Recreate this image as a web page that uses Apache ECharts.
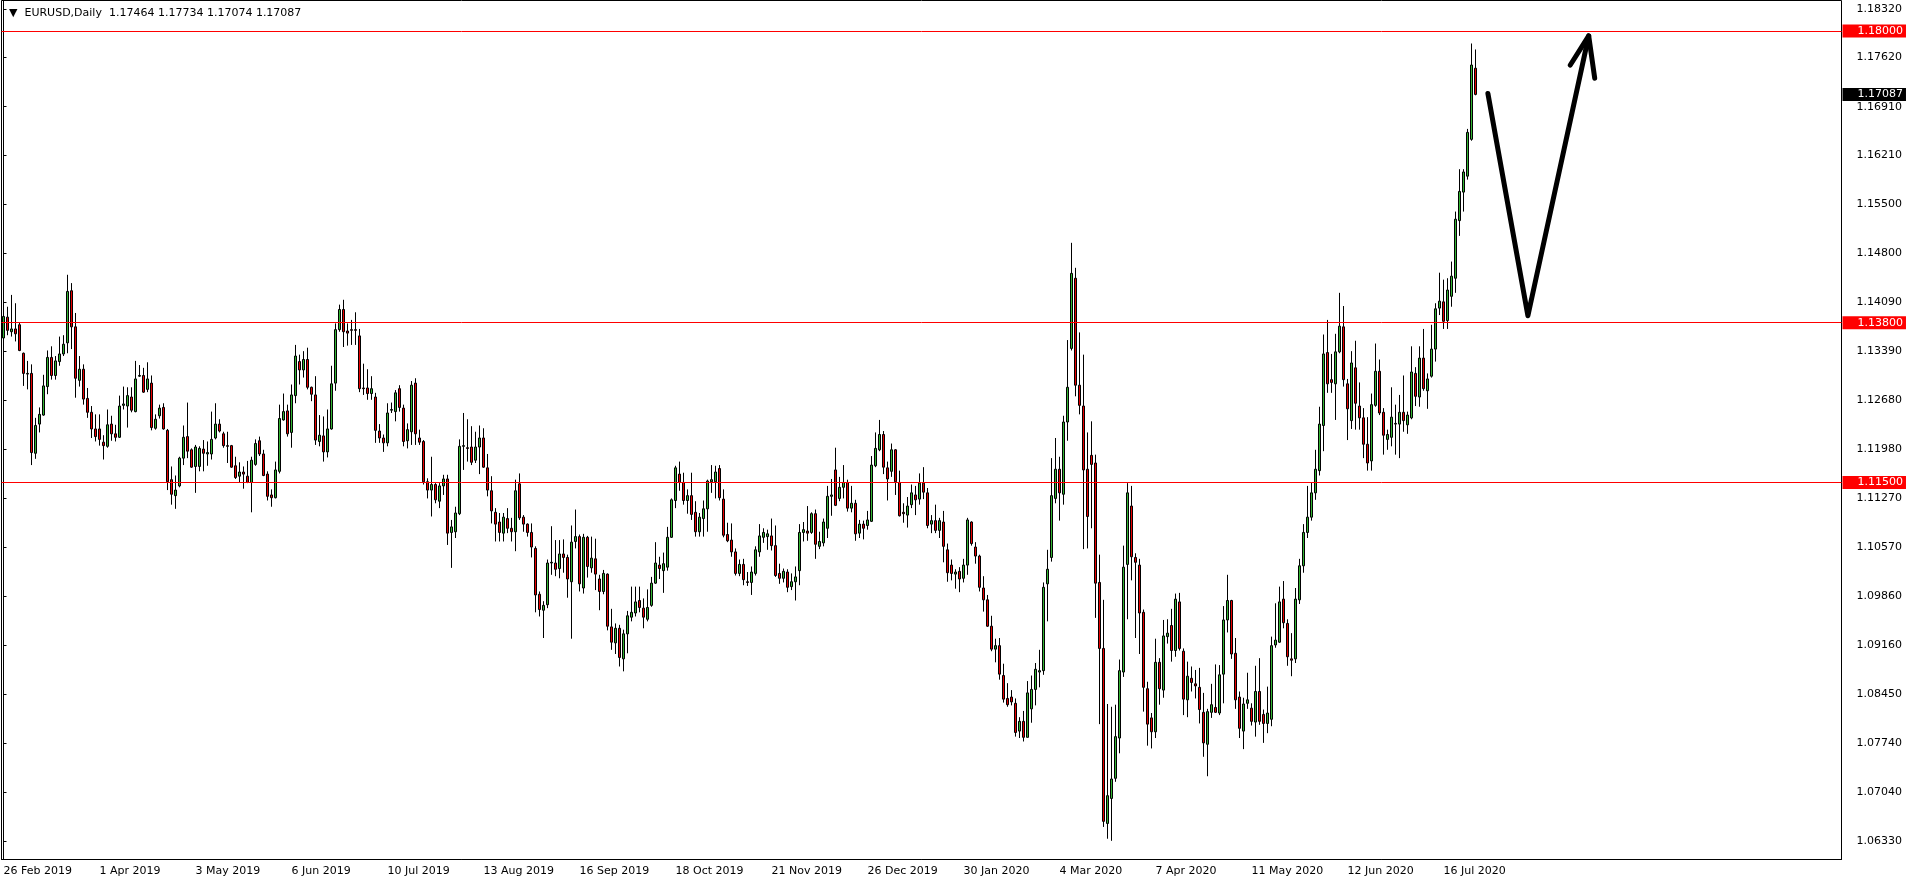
<!DOCTYPE html>
<html><head><meta charset="utf-8">
<script src="https://cdn.jsdelivr.net/npm/echarts@6/dist/echarts.min.js"></script>
<style>html,body{margin:0;padding:0;background:#fff}#c{width:1916px;height:884px}</style>
</head><body><div id="c"></div>
<script>
const headerText = 'EURUSD,Daily  1.17464 1.17734 1.17074 1.17087';
const startDate = '2019-02-26';
const closedDays = ['2019-12-25', '2020-01-01'];
const totalSlots = 460;
const labelEvery = 24;
const yTicks = [1.0633, 1.0704, 1.0774, 1.0845, 1.0916, 1.0986, 1.1057, 1.1127, 1.1198, 1.1268, 1.1339, 1.1409, 1.1480, 1.1550, 1.1621, 1.1691, 1.1762, 1.1832];
const levels = [1.18, 1.138, 1.115];
const lastPrice = 1.17087;
// [open, close, low, high]
const candles = [
[1.1358,1.1389,1.1343,1.1403],[1.1388,1.1369,1.1362,1.1403],[1.1367,1.1371,1.1360,1.1420],[1.1371,1.1364,1.1353,1.1408],
[1.1377,1.1340,1.1339,1.1380],[1.1336,1.1307,1.1289,1.1337],[1.1306,1.1307,1.1284,1.1325],[1.1307,1.1193,1.1175,1.1320],
[1.1192,1.1232,1.1184,1.1243],[1.1234,1.1248,1.1222,1.1258],[1.1247,1.1289,1.1246,1.1305],[1.1288,1.1330,1.1277,1.1340],
[1.1330,1.1304,1.1298,1.1346],[1.1304,1.1325,1.1298,1.1332],[1.1324,1.1335,1.1318,1.1360],[1.1335,1.1349,1.1332,1.1362],
[1.1351,1.1425,1.1336,1.1449],[1.1426,1.1374,1.1342,1.1437],[1.1374,1.1300,1.1272,1.1394],[1.1297,1.1313,1.1288,1.1332],
[1.1313,1.1270,1.1262,1.1320],[1.1271,1.1251,1.1243,1.1286],[1.1251,1.1227,1.1214,1.1260],[1.1227,1.1216,1.1209,1.1248],
[1.1227,1.1212,1.1203,1.1248],[1.1208,1.1203,1.1183,1.1218],[1.1202,1.1233,1.1200,1.1255],[1.1234,1.1220,1.1210,1.1246],
[1.1220,1.1215,1.1209,1.1233],[1.1215,1.1260,1.1214,1.1275],[1.1261,1.1263,1.1255,1.1288],[1.1260,1.1275,1.1229,1.1287],
[1.1273,1.1254,1.1251,1.1287],[1.1252,1.1299,1.1251,1.1325],[1.1303,1.1304,1.1302,1.1319],[1.1304,1.1280,1.1279,1.1315],
[1.1284,1.1299,1.1280,1.1323],[1.1293,1.1229,1.1225,1.1304],[1.1228,1.1241,1.1226,1.1248],[1.1246,1.1257,1.1242,1.1262],
[1.1258,1.1227,1.1226,1.1264],[1.1225,1.1151,1.1139,1.1227],[1.1154,1.1133,1.1118,1.1173],[1.1131,1.1139,1.1112,1.1160],
[1.1145,1.1185,1.1143,1.1187],[1.1185,1.1215,1.1175,1.1232],[1.1216,1.1195,1.1185,1.1265],[1.1197,1.1172,1.1171,1.1199],
[1.1173,1.1201,1.1135,1.1204],[1.1173,1.1199,1.1166,1.1202],[1.1198,1.1192,1.1166,1.1211],[1.1191,1.1193,1.1174,1.1209],
[1.1191,1.1212,1.1183,1.1252],[1.1214,1.1234,1.1212,1.1264],[1.1234,1.1224,1.1222,1.1241],[1.1220,1.1203,1.1200,1.1223],
[1.1203,1.1202,1.1178,1.1223],[1.1203,1.1172,1.1171,1.1204],[1.1174,1.1157,1.1155,1.1187],[1.1159,1.1165,1.1150,1.1179],
[1.1165,1.1162,1.1141,1.1173],[1.1159,1.1150,1.1149,1.1181],[1.1150,1.1182,1.1107,1.1187],[1.1176,1.1206,1.1174,1.1212],
[1.1210,1.1191,1.1188,1.1216],[1.1191,1.1160,1.1159,1.1197],[1.1162,1.1130,1.1124,1.1166],[1.1132,1.1128,1.1115,1.1140],
[1.1128,1.1168,1.1127,1.1180],[1.1166,1.1242,1.1163,1.1262],[1.1240,1.1252,1.1239,1.1278],[1.1253,1.1220,1.1216,1.1262],
[1.1222,1.1276,1.1200,1.1291],[1.1275,1.1332,1.1264,1.1348],[1.1324,1.1312,1.1291,1.1334],[1.1312,1.1327,1.1301,1.1339],
[1.1327,1.1287,1.1284,1.1344],[1.1287,1.1277,1.1267,1.1288],[1.1276,1.1211,1.1204,1.1303],[1.1209,1.1218,1.1202,1.1247],
[1.1217,1.1194,1.1180,1.1245],[1.1194,1.1227,1.1186,1.1255],[1.1227,1.1292,1.1226,1.1318],[1.1293,1.1370,1.1282,1.1379],
[1.1370,1.1399,1.1367,1.1406],[1.1399,1.1367,1.1345,1.1413],[1.1368,1.1365,1.1347,1.1379],[1.1370,1.1369,1.1348,1.1384],
[1.1370,1.1369,1.1348,1.1395],[1.1361,1.1285,1.1280,1.1371],[1.1286,1.1285,1.1276,1.1321],[1.1286,1.1278,1.1269,1.1313],
[1.1278,1.1285,1.1269,1.1303],[1.1273,1.1225,1.1207,1.1279],[1.1224,1.1214,1.1207,1.1234],[1.1214,1.1207,1.1194,1.1219],
[1.1207,1.1250,1.1202,1.1264],[1.1254,1.1255,1.1250,1.1265],[1.1252,1.1279,1.1238,1.1283],[1.1285,1.1258,1.1252,1.1290],
[1.1257,1.1209,1.1202,1.1262],[1.1210,1.1226,1.1199,1.1235],[1.1223,1.1290,1.1204,1.1296],[1.1293,1.1220,1.1204,1.1300],
[1.1214,1.1208,1.1204,1.1226],[1.1209,1.1151,1.1147,1.1211],[1.1151,1.1139,1.1127,1.1156],[1.1139,1.1147,1.1101,1.1187],
[1.1147,1.1125,1.1120,1.1149],[1.1123,1.1145,1.1113,1.1149],[1.1145,1.1155,1.1132,1.1161],[1.1155,1.1077,1.1060,1.1161],
[1.1078,1.1086,1.1027,1.1096],[1.1079,1.1106,1.1070,1.1115],[1.1105,1.1202,1.1103,1.1212],[1.1202,1.1203,1.1168,1.1250],
[1.1200,1.1199,1.1180,1.1241],[1.1201,1.1179,1.1175,1.1231],[1.1182,1.1201,1.1178,1.1223],[1.1201,1.1214,1.1162,1.1232],
[1.1214,1.1172,1.1171,1.1228],[1.1171,1.1139,1.1130,1.1191],[1.1138,1.1109,1.1091,1.1159],[1.1107,1.1090,1.1065,1.1113],
[1.1093,1.1078,1.1065,1.1106],[1.1077,1.1100,1.1065,1.1106],[1.1098,1.1084,1.1077,1.1113],[1.1084,1.1079,1.1065,1.1099],
[1.1079,1.1138,1.1051,1.1154],[1.1148,1.1099,1.1096,1.1163],[1.1100,1.1090,1.1079,1.1103],[1.1090,1.1078,1.1072,1.1091],
[1.1078,1.1057,1.1042,1.1091],[1.1055,1.0988,1.0963,1.1058],[1.0989,1.0967,1.0957,1.0993],[1.0966,1.0973,1.0926,1.0979],
[1.0974,1.1034,1.0969,1.1039],[1.1034,1.1035,1.1017,1.1087],[1.1034,1.1025,1.1015,1.1067],[1.1026,1.1047,1.1012,1.1067],
[1.1047,1.1042,1.1020,1.1068],[1.1042,1.1011,1.0984,1.1046],[1.1007,1.1064,1.0925,1.1088],[1.1065,1.1072,1.1055,1.1111],
[1.1072,1.1004,1.0993,1.1075],[1.0998,1.1071,1.0990,1.1076],[1.1071,1.1029,1.1013,1.1073],[1.1027,1.1041,1.1020,1.1072],
[1.1040,1.1018,1.0995,1.1069],[1.1011,1.0993,1.0966,1.1017],[1.0993,1.1019,1.0989,1.1024],[1.1018,1.0943,1.0937,1.1019],
[1.0942,1.0920,1.0909,1.0968],[1.0919,1.0940,1.0903,1.0947],[1.0940,1.0898,1.0885,1.0945],[1.0896,1.0932,1.0878,1.0938],
[1.0932,1.0958,1.0904,1.0965],[1.0956,1.0963,1.0950,1.1000],[1.0962,1.0978,1.0957,1.1000],[1.0980,1.0970,1.0963,1.1000],
[1.0969,1.0956,1.0940,1.0983],[1.0953,1.0970,1.0950,1.0996],[1.0973,1.1005,1.0971,1.1014],[1.1005,1.1034,1.1004,1.1064],
[1.1031,1.1026,1.1011,1.1043],[1.1023,1.1033,1.0991,1.1049],[1.1028,1.1071,1.1023,1.1086],[1.1071,1.1125,1.1070,1.1127],
[1.1124,1.1171,1.1113,1.1174],[1.1162,1.1150,1.1138,1.1180],[1.1150,1.1124,1.1118,1.1164],[1.1124,1.1131,1.1105,1.1140],
[1.1131,1.1104,1.1096,1.1164],[1.1107,1.1079,1.1072,1.1123],[1.1079,1.1100,1.1072,1.1106],[1.1098,1.1112,1.1072,1.1124],
[1.1112,1.1152,1.1079,1.1154],[1.1151,1.1154,1.1135,1.1175],[1.1151,1.1165,1.1127,1.1174],[1.1170,1.1128,1.1124,1.1175],
[1.1126,1.1074,1.1071,1.1140],[1.1075,1.1066,1.1064,1.1092],[1.1067,1.1050,1.1043,1.1091],[1.1050,1.1019,1.1016,1.1055],
[1.1019,1.1032,1.1015,1.1039],[1.1032,1.1010,1.1002,1.1040],[1.1007,1.1006,1.1001,1.1021],[1.1006,1.1021,1.0988,1.1029],
[1.1019,1.1053,1.1016,1.1058],[1.1050,1.1073,1.1043,1.1090],[1.1071,1.1078,1.1063,1.1084],[1.1072,1.1076,1.1053,1.1082],
[1.1073,1.1059,1.1052,1.1098],[1.1059,1.1016,1.1014,1.1088],[1.1019,1.1012,1.1004,1.1033],[1.1012,1.1022,1.1006,1.1026],
[1.1021,1.0999,1.0992,1.1025],[1.1000,1.1007,1.0995,1.1019],[1.1007,1.1014,1.0980,1.1029],[1.1023,1.1078,1.1002,1.1090],
[1.1078,1.1082,1.1065,1.1093],[1.1080,1.1077,1.1066,1.1116],[1.1078,1.1105,1.1076,1.1107],[1.1105,1.1061,1.1040,1.1111],
[1.1058,1.1065,1.1054,1.1079],[1.1063,1.1093,1.1058,1.1098],[1.1084,1.1130,1.1070,1.1145],[1.1130,1.1132,1.1102,1.1155],
[1.1168,1.1117,1.1116,1.1200],[1.1127,1.1143,1.1123,1.1158],[1.1143,1.1150,1.1127,1.1175],[1.1150,1.1113,1.1108,1.1154],
[1.1113,1.1120,1.1107,1.1145],[1.1120,1.1076,1.1066,1.1125],[1.1077,1.1090,1.1070,1.1096],[1.1090,1.1084,1.1068,1.1095],
[1.1088,1.1096,1.1082,1.1109],[1.1094,1.1175,1.1093,1.1188],[1.1174,1.1199,1.1172,1.1222],[1.1197,1.1219,1.1195,1.1240],
[1.1219,1.1172,1.1162,1.1224],[1.1171,1.1155,1.1124,1.1180],[1.1166,1.1197,1.1158,1.1206],[1.1197,1.1151,1.1132,1.1198],
[1.1150,1.1102,1.1101,1.1167],[1.1107,1.1105,1.1092,1.1120],[1.1103,1.1116,1.1085,1.1129],[1.1118,1.1135,1.1113,1.1147],
[1.1132,1.1125,1.1103,1.1145],[1.1126,1.1149,1.1118,1.1163],[1.1149,1.1136,1.1126,1.1172],[1.1135,1.1088,1.1084,1.1142],
[1.1090,1.1095,1.1077,1.1103],[1.1095,1.1081,1.1077,1.1118],[1.1081,1.1095,1.1070,1.1099],[1.1093,1.1058,1.1035,1.1109],
[1.1053,1.1020,1.1007,1.1062],[1.1031,1.1019,1.1009,1.1039],[1.1018,1.1021,1.0997,1.1025],[1.1022,1.1011,1.0992,1.1028],
[1.1012,1.1031,1.1006,1.1040],[1.1031,1.1096,1.1017,1.1099],[1.1093,1.1062,1.1059,1.1094],[1.1057,1.1044,1.1033,1.1064],
[1.1044,1.0999,1.0993,1.1046],[1.0998,1.0981,1.0964,1.1015],[1.0981,1.0943,1.0942,1.0988],[1.0943,1.0910,1.0907,1.0958],
[1.0910,1.0915,1.0891,1.0925],[1.0915,1.0874,1.0866,1.0926],[1.0872,1.0838,1.0833,1.0889],[1.0839,1.0830,1.0827,1.0861],
[1.0841,1.0834,1.0829,1.0851],[1.0832,1.0790,1.0784,1.0839],[1.0792,1.0806,1.0782,1.0812],[1.0806,1.0783,1.0777,1.0821],
[1.0783,1.0847,1.0783,1.0864],[1.0824,1.0852,1.0804,1.0872],[1.0852,1.0881,1.0829,1.0890],[1.0877,1.0879,1.0855,1.0909],
[1.0879,1.0999,1.0873,1.1006],[1.1004,1.1025,1.0950,1.1053],[1.1042,1.1131,1.1036,1.1185],[1.1127,1.1169,1.1120,1.1214],
[1.1169,1.1135,1.1095,1.1187],[1.1133,1.1237,1.1118,1.1246],[1.1237,1.1287,1.1210,1.1355],[1.1343,1.1451,1.1340,1.1495],
[1.1444,1.1290,1.1274,1.1459],[1.1290,1.1261,1.1248,1.1366],[1.1260,1.1168,1.1054,1.1334],[1.1169,1.1101,1.1055,1.1222],
[1.1189,1.1176,1.1084,1.1238],[1.1178,1.1005,1.0955,1.1190],[1.1006,1.0911,1.0802,1.1046],[1.0911,1.0662,1.0654,1.0981],
[1.0659,1.0699,1.0637,1.0831],[1.0695,1.0723,1.0634,1.0827],[1.0724,1.0784,1.0719,1.0830],[1.0782,1.0879,1.0760,1.0895],
[1.0877,1.1028,1.0870,1.1059],[1.1032,1.1135,1.0953,1.1149],[1.1116,1.1043,1.1009,1.1145],[1.1042,1.1035,1.0926,1.1048],
[1.1031,1.0962,1.0903,1.1040],[1.0963,1.0855,1.0820,1.0967],[1.0853,1.0802,1.0771,1.0863],[1.0811,1.0791,1.0767,1.0818],
[1.0791,1.0891,1.0782,1.0925],[1.0891,1.0853,1.0830,1.0897],[1.0851,1.0929,1.0840,1.0952],[1.0928,1.0933,1.0918,1.0953],
[1.0944,1.0908,1.0892,1.0968],[1.0908,1.0982,1.0899,1.0990],[1.0978,1.0911,1.0908,1.0991],[1.0907,1.0838,1.0815,1.0911],
[1.0837,1.0871,1.0812,1.0892],[1.0868,1.0862,1.0849,1.0885],[1.0860,1.0857,1.0839,1.0880],[1.0855,1.0823,1.0803,1.0883],
[1.0819,1.0775,1.0755,1.0847],[1.0773,1.0820,1.0727,1.0824],[1.0819,1.0830,1.0811,1.0860],[1.0826,1.0819,1.0818,1.0888],
[1.0818,1.0873,1.0815,1.0887],[1.0874,1.0952,1.0832,1.0972],[1.0952,1.0980,1.0934,1.1017],[1.0980,1.0903,1.0896,1.0981],
[1.0904,1.0837,1.0824,1.0926],[1.0841,1.0796,1.0782,1.0849],[1.0792,1.0831,1.0766,1.0840],[1.0832,1.0837,1.0824,1.0876],
[1.0825,1.0806,1.0800,1.0832],[1.0805,1.0849,1.0784,1.0886],[1.0849,1.0806,1.0801,1.0897],[1.0816,1.0803,1.0775,1.0823],
[1.0803,1.0818,1.0789,1.0856],[1.0809,1.0915,1.0799,1.0928],[1.0916,1.0923,1.0912,1.0976],[1.0920,1.0978,1.0919,1.1000],
[1.0982,1.0948,1.0940,1.1008],[1.0947,1.0899,1.0886,1.0953],[1.0896,1.0894,1.0871,1.0933],[1.0896,1.0982,1.0890,1.0998],
[1.0981,1.1030,1.0975,1.1040],[1.1030,1.1078,1.1020,1.1090],[1.1078,1.1100,1.1070,1.1145],[1.1100,1.1135,1.1095,1.1150],
[1.1135,1.1169,1.1125,1.1197],[1.1167,1.1234,1.1160,1.1259],[1.1232,1.1335,1.1195,1.1363],[1.1337,1.1292,1.1279,1.1384],
[1.1298,1.1294,1.1279,1.1335],[1.1292,1.1338,1.1240,1.1364],[1.1338,1.1375,1.1336,1.1423],[1.1374,1.1298,1.1288,1.1404],
[1.1292,1.1256,1.1211,1.1299],[1.1239,1.1322,1.1227,1.1339],[1.1315,1.1264,1.1226,1.1354],[1.1260,1.1243,1.1226,1.1294],
[1.1243,1.1205,1.1185,1.1257],[1.1205,1.1178,1.1167,1.1244],[1.1181,1.1262,1.1167,1.1278],[1.1261,1.1310,1.1259,1.1350],
[1.1310,1.1250,1.1247,1.1327],[1.1251,1.1218,1.1190,1.1257],[1.1212,1.1219,1.1197,1.1226],[1.1215,1.1244,1.1202,1.1287],
[1.1234,1.1235,1.1190,1.1262],[1.1234,1.1251,1.1185,1.1276],[1.1251,1.1239,1.1223,1.1304],[1.1233,1.1247,1.1220,1.1252],
[1.1243,1.1309,1.1241,1.1346],[1.1307,1.1274,1.1260,1.1316],[1.1273,1.1329,1.1259,1.1346],[1.1329,1.1285,1.1282,1.1371],
[1.1282,1.1299,1.1256,1.1307],[1.1303,1.1342,1.1301,1.1377],[1.1342,1.1400,1.1324,1.1408],[1.1401,1.1411,1.1391,1.1452],
[1.1410,1.1382,1.1371,1.1442],[1.1383,1.1427,1.1371,1.1444],[1.1418,1.1447,1.1403,1.1468],[1.1444,1.1529,1.1423,1.1540],
[1.1527,1.1569,1.1505,1.1601],[1.1568,1.1597,1.1540,1.1601],[1.1591,1.1654,1.1586,1.1659],[1.1644,1.1751,1.1642,1.1782],
[1.17464,1.17087,1.17074,1.17734]
];
// hand-drawn arrow, in (bar index, price)
const arrowPath = [[371.1, 1.1710], [381.1, 1.1390], [396.3, 1.1793]];
const arrowHead = [[391.7, 1.1751], [396.3, 1.1793], [397.8, 1.1732]];

const months = ['Jan','Feb','Mar','Apr','May','Jun','Jul','Aug','Sep','Oct','Nov','Dec'];
const dates = [];
{
  let d = new Date(startDate + 'T00:00:00Z');
  while (dates.length < totalSlots) {
    const wd = d.getUTCDay();
    const iso = d.toISOString().slice(0, 10);
    if (wd !== 0 && wd !== 6 && closedDays.indexOf(iso) < 0) {
      dates.push(d.getUTCDate() + ' ' + months[d.getUTCMonth()] + ' ' + d.getUTCFullYear());
    }
    d = new Date(d.getTime() + 86400000);
  }
}
const FONT = 'DejaVu Sans';
const showLabel = (i) => i % labelEvery === 0 && i < candles.length;

const tagLabel = (bg) => ({
  show: true, position: 'end', distance: 1,
  formatter: (p) => Number(p.value).toFixed(5),
  color: '#fff', backgroundColor: bg, fontFamily: FONT, fontSize: 11,
  lineHeight: 12, padding: [1, 3, 0, 15]
});

const chart = echarts.init(document.getElementById('c'), null, { renderer: 'canvas' });
chart.setOption({
  animation: false,
  backgroundColor: '#fff',
  title: {
    text: '▼  ' + headerText, left: 4, top: 3,
    textStyle: { fontFamily: FONT, fontSize: 11, fontWeight: 'normal', color: '#000' }
  },
  grid: { left: 1.5, top: 0.5, width: 1840, height: 859, show: true, borderColor: '#000', borderWidth: 1 },
  xAxis: [{
    type: 'category', data: dates, boundaryGap: true,
    axisLine: { show: true, lineStyle: { color: '#000', width: 1 } },
    axisTick: { show: false },
    axisLabel: { interval: showLabel, align: 'left', margin: 6, color: '#000', fontFamily: FONT, fontSize: 11, hideOverlap: false },
    splitLine: { show: false }
  }, {
    type: 'value', min: -0.5, max: totalSlots - 0.5, show: false
  }],
  yAxis: [{
    type: 'value', position: 'right', min: 1.06071, max: 1.18439,
    axisLine: { show: true, lineStyle: { color: '#000', width: 1 } },
    axisTick: { show: true, length: 3, customValues: yTicks, lineStyle: { color: '#000' } },
    axisLabel: { customValues: yTicks, formatter: (v) => v.toFixed(5), margin: 15, color: '#000', fontFamily: FONT, fontSize: 11 },
    splitLine: { show: false }
  }],
  series: [{
    type: 'candlestick', data: candles, xAxisIndex: 0, yAxisIndex: 0,
    barWidth: 3,
    itemStyle: { color: '#32b432', color0: '#e80000', borderColor: '#000', borderColor0: '#000', borderColorDoji: '#000', borderWidth: 1 },
    markLine: {
      silent: true, symbol: ['none', 'none'], animation: false, precision: 5,
      data: levels.map(v => ({ yAxis: v, lineStyle: { color: '#ff0000', width: 1, type: 'solid' }, label: tagLabel('#ff0000') }))
        .concat([{ yAxis: lastPrice, lineStyle: { color: 'rgba(0,0,0,0)', width: 1, type: 'solid' }, label: tagLabel('#000000') }])
    }
  }, {
    type: 'line', xAxisIndex: 1, yAxisIndex: 0, data: arrowPath, symbol: 'none', silent: true,
    lineStyle: { color: '#000', width: 5, cap: 'round', join: 'round' }, z: 5
  }, {
    type: 'line', xAxisIndex: 1, yAxisIndex: 0, data: arrowHead, symbol: 'none', silent: true,
    lineStyle: { color: '#000', width: 5, cap: 'round', join: 'round' }, z: 5
  }]
});
</script></body></html>
